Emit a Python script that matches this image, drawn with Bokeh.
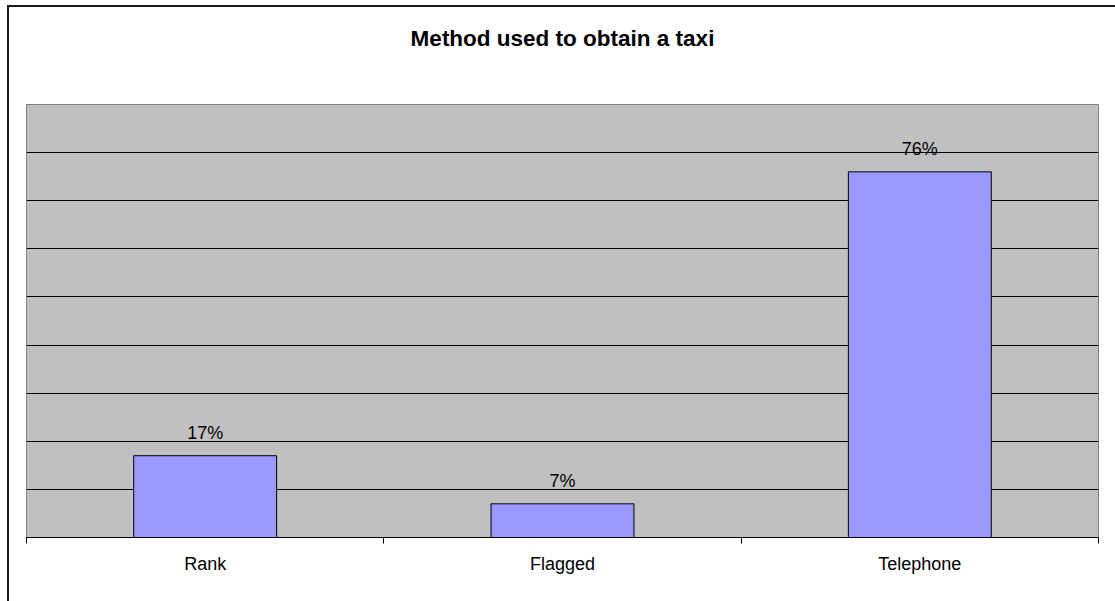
from bokeh.plotting import figure
from bokeh.models import Range1d, FixedTicker, ColumnDataSource, Title
from bokeh.core.properties import value
from bokeh.embed import file_html
from bokeh.resources import INLINE

# Survey results: how respondents obtained a taxi
categories = ["Rank", "Flagged", "Telephone"]
shares = [0.17, 0.07, 0.76]
title_text = "Method used to obtain a taxi"

FONT = "Liberation Sans"

xs = [i + 0.5 for i in range(len(categories))]
labels = [f"{round(v * 100)}%" for v in shares]
src = ColumnDataSource(dict(x=xs, top=shares, label=labels))

p = figure(
    width=1108, height=596,
    x_range=Range1d(0, len(categories)), y_range=Range1d(0, 0.9),
    output_backend="svg", toolbar_location=None,
    min_border_left=19, min_border_right=17,
    min_border_top=99, min_border_bottom=64,
)
# chart area offset inside the page, with a dark edge on top and left
p.margin = (5, 0, 0, 7)
p.styles = {"box-shadow": "inset 2px 2px 0 0 #1a1a1a"}

p.background_fill_color = "#C0C0C0"
p.border_fill_color = None
p.outline_line_color = "#808080"
p.outline_line_width = 1

# horizontal gridlines every 10 %
p.ygrid.ticker = FixedTicker(ticks=[0.1 * k for k in range(1, 9)])
p.ygrid.grid_line_color = "black"
p.ygrid.grid_line_width = 1
p.xgrid.visible = False
p.yaxis.visible = False

# category axis: labels at centres, tick marks at category boundaries
xa = p.xaxis[0]
xa.ticker = FixedTicker(ticks=xs, minor_ticks=list(range(len(categories) + 1)))
xa.major_label_overrides = {x: c for x, c in zip(xs, categories)}
xa.major_tick_in = 0
xa.major_tick_out = 0
xa.minor_tick_in = 0
xa.minor_tick_out = 6
xa.minor_tick_line_color = "black"
xa.axis_line_color = "black"
xa.major_label_text_font = FONT
xa.major_label_text_font_size = "18px"
xa.major_label_text_color = "black"
xa.major_label_standoff = 10

p.vbar(x="x", top="top", width=0.4, bottom=0, source=src,
       fill_color="#9999FF", line_color="black", line_width=1)

p.text(x="x", y="top", text="label", source=src,
       text_align="center", text_baseline="alphabetic", y_offset=-23,
       text_font=value(FONT), text_font_size="18px", text_color="black")

# blank band between the plotting area and the title
p.add_layout(Title(text=" ", text_font_size="1px", standoff=46), "above")
# chart title
p.add_layout(Title(text=title_text, align="center", text_font=FONT,
                   text_font_size="22.5px", text_font_style="bold",
                   text_color="black", standoff=10), "above")

open("out.html", "w").write(file_html(p, INLINE))
